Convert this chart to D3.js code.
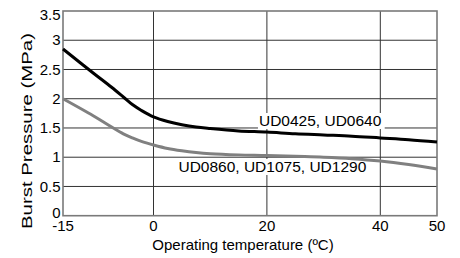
<!DOCTYPE html>
<html><head><meta charset="utf-8">
<script src="https://cdn.jsdelivr.net/npm/d3@7"></script>
<style>body{margin:0;background:#fff}svg{display:block}text{font-family:"Liberation Sans",Arial,sans-serif;fill:#000}</style>
</head><body><div id="chart"></div>
<script>
const xTicks = [-15, 0, 20, 40, 50];
const yTicks = [0, 0.5, 1, 1.5, 2, 2.5, 3, 3.5];
const xGrid = [0, 20, 40];
const temps = [-15, -10, -7, -5, -3.5, -2, 0, 2.5, 5, 7.5, 10, 15, 20, 25, 30, 35, 40, 45, 50];
const seriesA = [2.85, 2.44, 2.20, 2.03, 1.90, 1.80, 1.69, 1.61, 1.555, 1.515, 1.49, 1.45, 1.43, 1.40, 1.38, 1.36, 1.33, 1.30, 1.26];
const seriesB = [2.00, 1.71, 1.52, 1.40, 1.33, 1.27, 1.21, 1.15, 1.11, 1.08, 1.06, 1.04, 1.03, 1.015, 1.00, 0.975, 0.935, 0.875, 0.80];
const labelA = "UD0425, UD0640";
const labelB = "UD0860, UD1075, UD1290";
const xTitle = "Operating temperature (ºC)";
const yTitle = "Burst Pressure (MPa)";

const W = 460, H = 258;
const svg = d3.select("#chart").append("svg").attr("width", W).attr("height", H);
const x = d3.scaleLinear().domain([-15, 0, 50]).range([63, 153.5, 437]);
const y = d3.scaleLinear().domain([0, 3.5]).range([215.7, 11]);

// grid
svg.append("g").selectAll("line").data(yTicks.filter(d => d > 0 && d < 3.5)).join("line")
  .attr("x1", x(-15)).attr("x2", x(50)).attr("y1", d => y(d)).attr("y2", d => y(d))
  .attr("stroke", "#333").attr("stroke-width", 1);
svg.append("g").selectAll("line").data(xGrid).join("line")
  .attr("x1", d => x(d)).attr("x2", d => x(d)).attr("y1", y(0)).attr("y2", y(3.5))
  .attr("stroke", "#333").attr("stroke-width", 1);

// labels with white background (under the curves)
function label(txt, tx, baseline) {
  const g = svg.append("g");
  const t = g.append("text").attr("x", x(tx)).attr("y", baseline).style("font-size", "15.5px").text(txt);
  const b = t.node().getBBox();
  g.insert("rect", "text").attr("x", b.x - 1).attr("y", baseline - 12.5).attr("width", b.width + 4).attr("height", 16)
    .attr("fill", "#fff");
}
label(labelA, 18.6, 125.5);
label(labelB, 4.4, 171.5);

// frame
svg.append("rect").attr("x", x(-15)).attr("y", y(3.5)).attr("width", x(50) - x(-15)).attr("height", y(0) - y(3.5))
  .attr("fill", "none").attr("stroke", "#7a7a7a").attr("stroke-width", 1.6);

// lines
const line = d3.line().x(d => x(d[0])).y(d => y(d[1])).curve(d3.curveCatmullRom.alpha(0.5));
svg.append("path").datum(temps.map((t, i) => [t, seriesB[i]])).attr("d", line)
  .attr("fill", "none").attr("stroke", "#808080").attr("stroke-width", 3);
svg.append("path").datum(temps.map((t, i) => [t, seriesA[i]])).attr("d", line)
  .attr("fill", "none").attr("stroke", "#000").attr("stroke-width", 3);

// axes ticks labels
svg.append("g").selectAll("text").data(xTicks).join("text")
  .attr("x", d => x(d)).attr("y", 231).attr("text-anchor", "middle").style("font-size", "15px")
  .text(d => d);
svg.append("g").selectAll("text").data(yTicks).join("text")
  .attr("x", 60.5).attr("y", d => Math.max(y(d), 14.3) + (d === 0 ? -3 : 0)).attr("dy", "0.35em").attr("text-anchor", "end")
  .style("font-size", "15px").text(d => d);

svg.append("text").attr("x", 243).attr("y", 249.5).attr("text-anchor", "middle").style("font-size", "15px").text(xTitle);
svg.append("text").attr("transform", "translate(31.5,131) rotate(-90)").attr("text-anchor", "middle")
  .attr("textLength", 196).attr("lengthAdjust", "spacingAndGlyphs")
  .style("font-size", "15.5px").text(yTitle);
</script></body></html>
